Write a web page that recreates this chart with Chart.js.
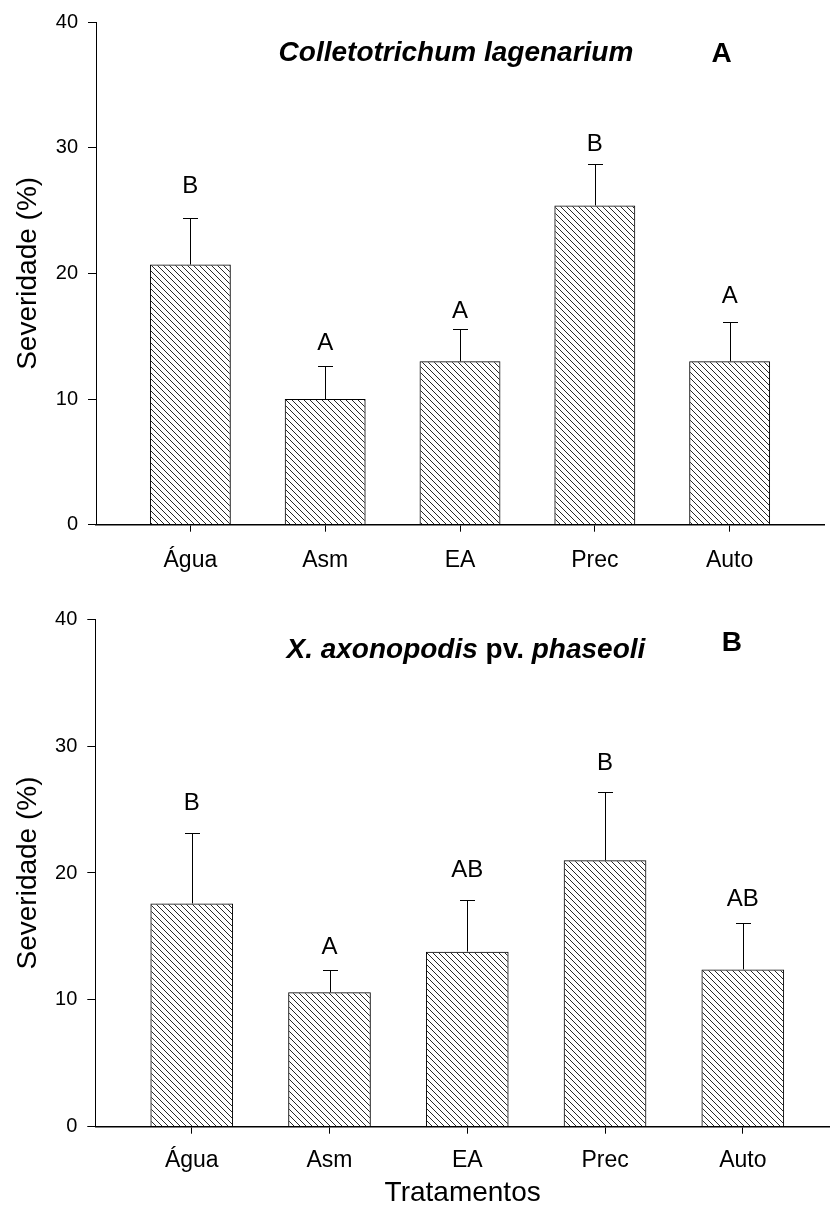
<!DOCTYPE html>
<html>
<head>
<meta charset="utf-8">
<script src="https://cdn.jsdelivr.net/npm/chart.js@4.4.0/dist/chart.umd.min.js"></script>
<style>
  html, body { margin: 0; padding: 0; background: #fff; }
  #wrap { position: relative; width: 830px; height: 1210px; }
  .box { position: absolute; left: 0; width: 830px; }
</style>
</head>
<body>
<div id="wrap">
  <div class="box" style="top:0;height:580px"><canvas id="chartA"></canvas></div>
  <div class="box" style="top:580px;height:630px"><canvas id="chartB"></canvas></div>
</div>
<script>
// Data
const categories = ["Água", "Asm", "EA", "Prec", "Auto"];
const yTicks = [0, 10, 20, 30, 40];

// A - Colletotrichum lagenarium
const severidadeA = [20.7, 10.0, 13.0, 25.4, 13.0];
const erroA = [3.7, 2.6, 2.6, 3.3, 3.15];
const letrasA = ["B", "A", "A", "B", "A"];
const alturaLetraA = [26.9, 14.4, 17.0, 30.3, 18.2];

// B - X. axonopodis pv. phaseoli
const severidadeB = [17.6, 10.6, 13.8, 21.0, 12.4];
const erroB = [5.55, 1.75, 4.1, 5.4, 3.65];
const letrasB = ["B", "A", "AB", "B", "AB"];
const alturaLetraB = [25.5, 14.1, 20.2, 28.65, 17.95];

const FONT = "'Liberation Sans', Arial, sans-serif";

// hatch fill "\\\\"
function hatchPattern() {
  const c = document.createElement("canvas");
  c.width = 6;
  c.height = 6;
  const g = c.getContext("2d");
  g.strokeStyle = "#111";
  g.lineWidth = 0.9;
  g.beginPath();
  g.moveTo(-1, -1); g.lineTo(7, 7);
  g.moveTo(-1, 5); g.lineTo(1, 7);
  g.moveTo(5, -1); g.lineTo(7, 1);
  g.stroke();
  return g.createPattern(c, "repeat");
}

// error bars, letters and panel titles
const anotacoes = {
  id: "anotacoes",
  afterDatasetsDraw(chart) {
    const o = chart.options.plugins.anotacoes;
    const { ctx } = chart;
    const x = chart.scales.x, y = chart.scales.y;
    ctx.save();
    ctx.strokeStyle = "#000";
    ctx.lineWidth = 1;
    o.values.forEach((v, i) => {
      const px = Math.round(x.getPixelForValue(i)) + 0.5;
      const y0 = y.getPixelForValue(v);
      const y1 = Math.round(y.getPixelForValue(v + o.err[i])) + 0.5;
      ctx.beginPath();
      ctx.moveTo(px, y0);
      ctx.lineTo(px, y1);
      ctx.moveTo(px - 7.5, y1);
      ctx.lineTo(px + 7.5, y1);
      ctx.stroke();
      ctx.fillStyle = "#000";
      ctx.font = "24px " + FONT;
      ctx.textAlign = "center";
      ctx.textBaseline = "middle";
      ctx.fillText(o.letters[i], x.getPixelForValue(i), y.getPixelForValue(o.letterAt[i]));
    });
    // title with mixed styles
    const parts = o.title;
    let total = 0;
    parts.forEach(p => { ctx.font = (p[1] ? "italic " : "") + "bold 28px " + FONT; total += ctx.measureText(p[0]).width; });
    let tx = x.getPixelForValue(o.titleAt[0]) - total / 2;
    const ty = y.getPixelForValue(o.titleAt[1]);
    ctx.textAlign = "left";
    parts.forEach(p => {
      ctx.font = (p[1] ? "italic " : "") + "bold 28px " + FONT;
      ctx.fillText(p[0], tx, ty);
      tx += ctx.measureText(p[0]).width;
    });
    ctx.font = "bold 28px " + FONT;
    ctx.textAlign = "center";
    ctx.fillText(o.panel, x.getPixelForValue(o.panelAt[0]), y.getPixelForValue(o.panelAt[1]));
    ctx.restore();
  }
};

function makeChart(id, cfg) {
  return new Chart(document.getElementById(id), {
    type: "bar",
    data: {
      datasets: [{
        data: cfg.values.map((v, i) => ({ x: i, y: v })),
        backgroundColor: hatchPattern(),
        borderColor: "#000",
        borderWidth: 1,
        barPercentage: 0.6,
        categoryPercentage: 1
      }]
    },
    plugins: [anotacoes],
    options: {
      responsive: true,
      maintainAspectRatio: false,
      animation: false,
      layout: { padding: { top: cfg.padTop, right: cfg.padRight, bottom: 0, left: 0 } },
      plugins: {
        legend: { display: false },
        tooltip: { enabled: false },
        anotacoes: cfg
      },
      scales: {
        x: {
          type: "linear",
          offset: false,
          min: -0.7,
          max: cfg.xMax,
          afterFit(s) { s.height = cfg.xHeight; },
          afterBuildTicks(s) { s.ticks = categories.map((c, i) => ({ value: i })); },
          ticks: {
            autoSkip: false,
            maxRotation: 0,
            padding: cfg.xPad,
            color: "#000",
            font: { family: FONT, size: 23 },
            callback: v => categories[v]
          },
          grid: { offset: false, drawOnChartArea: false, drawTicks: true, tickLength: 7, color: "#000" },
          border: { display: true, color: "#000", width: 1.5 },
          title: {
            display: cfg.xTitle,
            text: "Tratamentos",
            color: "#000",
            font: { family: FONT, size: 28 },
            padding: { top: 0, bottom: 0 }
          }
        },
        y: {
          min: 0,
          max: 40,
          afterFit(s) { s.width = cfg.yWidth; },
          afterBuildTicks(s) { s.ticks = yTicks.map(v => ({ value: v })); },
          ticks: { padding: 10, color: "#000", font: { family: FONT, size: 20 } },
          grid: { drawOnChartArea: false, drawTicks: true, tickLength: 8, color: "#000" },
          border: { display: true, color: "#000", width: 1 },
          title: {
            display: true,
            text: "Severidade (%)",
            color: "#000",
            font: { family: FONT, size: 28 },
            padding: { top: 11, bottom: 0 }
          }
        }
      }
    }
  });
}

makeChart("chartA", {
  values: severidadeA, err: erroA, letters: letrasA, letterAt: alturaLetraA,
  title: [["Colletotrichum lagenarium", true]], titleAt: [1.97, 37.5],
  panel: "A", panelAt: [3.94, 37.4],
  padTop: 19.5, padRight: 6, xMax: 4.7, xHeight: 55.3, xPad: 15, yWidth: 96, xTitle: false
});

makeChart("chartB", {
  values: severidadeB, err: erroB, letters: letrasB, letterAt: alturaLetraB,
  title: [["X. axonopodis", true], [" pv. ", false], ["phaseoli", true]], titleAt: [1.99, 37.58],
  panel: "B", panelAt: [3.92, 38.13],
  padTop: 39.3, padRight: 0, xMax: 4.633, xHeight: 83.3, xPad: 13, yWidth: 95.3, xTitle: true
});
</script>
</body>
</html>
